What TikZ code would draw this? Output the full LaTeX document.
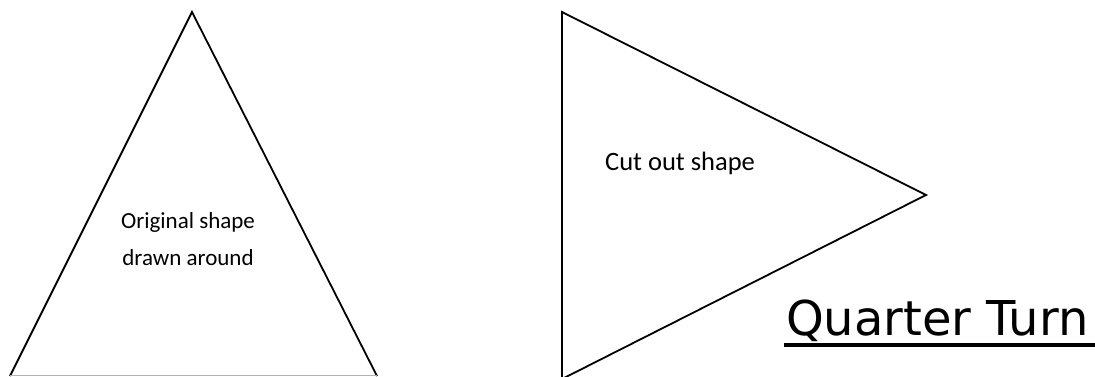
\documentclass[tikz,border=0pt]{standalone}
\usepackage{fontspec}
\setmainfont{Carlito}
\newfontfamily\qfont{DejaVu Sans}
\begin{document}
\begin{tikzpicture}[x=1pt,y=-1pt,
  shapeline/.style={draw=black,line width=1.8pt,line join=miter},
  lbl/.style={inner sep=0pt,font=\fontsize{23}{27}\selectfont}]
\useasboundingbox[fill=white] (0,0) rectangle (1095,376);
% original triangle
\coordinate (a1) at (192,12);
\coordinate (a2) at (10,376);
\coordinate (a3) at (377,376);
\draw[shapeline] (a2) -- (a1) -- (a3);
\draw[gray!60,line width=1pt] (10,375) -- (377,375);
% cut out triangle
\coordinate (b1) at (562,12);
\coordinate (b2) at (926,195);
\coordinate (b3) at (562,379);
\draw[shapeline] (b3) -- (b1) -- (b2) -- (b3);
\node[lbl,anchor=base] (t1) at (188,228) {Original shape};
\node[lbl,anchor=base] (t2) at (188,265) {drawn around};
\node[lbl,anchor=base west,font=\fontsize{26.5}{30}\selectfont] (t3) at (605,170) {Cut out shape};
\node[inner sep=0pt,anchor=base west,font=\qfont\fontsize{48}{52}\selectfont] (q) at (786,335) {Quarter Turn};
\draw[line width=4pt] (784,344.5) -- (1095,344.5);
\end{tikzpicture}
\end{document}
